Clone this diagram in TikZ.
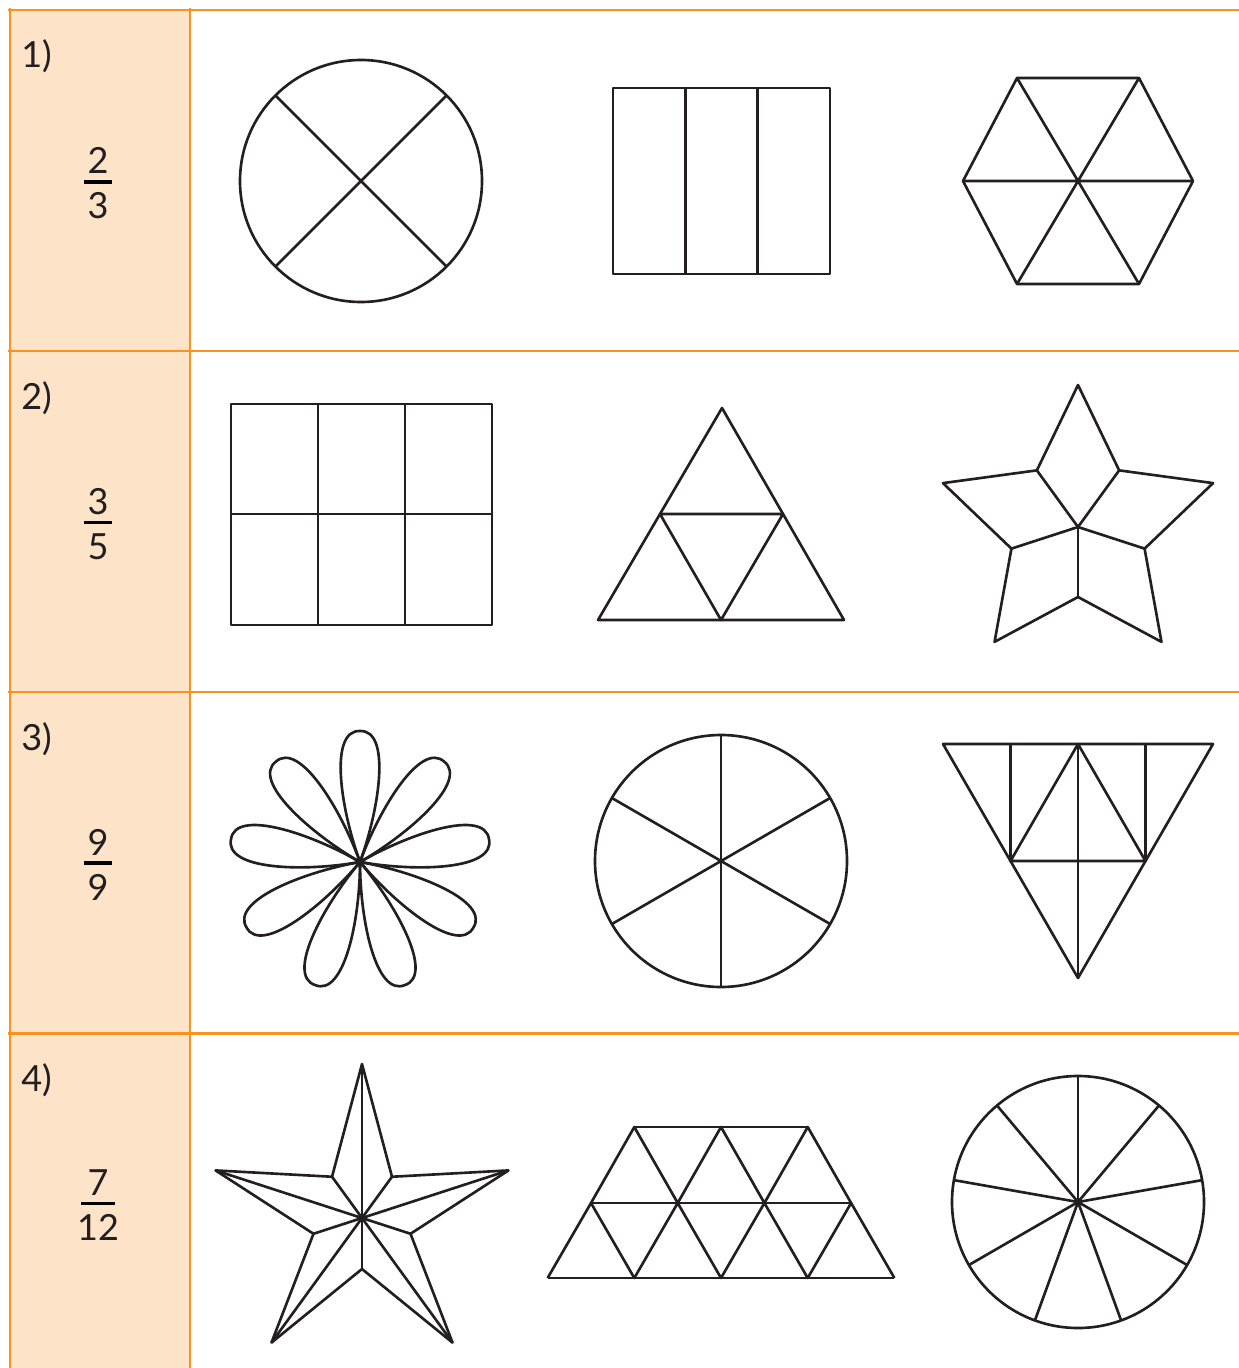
\documentclass[tikz,border=0pt]{standalone}
\usepackage{fontspec}
\setmainfont{Lato}
\definecolor{orangeligne}{HTML}{F7931E}
\definecolor{orangefond}{HTML}{FDE3C8}
\definecolor{encre}{HTML}{231F20}
\tikzset{
  trait/.style={draw=encre, line width=1.5pt, line join=round},
  cadre/.style={draw=orangeligne, line width=1.7pt},
  chiffre/.style={font=\fontsize{20.5}{24}\selectfont, text=encre, inner sep=0pt},
}
\begin{document}
\begin{tikzpicture}[x=0.02cm, y=0.02cm]
  \useasboundingbox (0,0) rectangle (1239,-1368);
  % Colonne de gauche et lignes du tableau
  \fill[orangefond] (10,-10) rectangle (190,-1368);
  \foreach \y in {10,351,692,1033} {
    \draw[cadre] (8,-\y) -- (1239,-\y);
  }
  \draw[cadre] (10,-8) -- (10,-1368);
  \draw[cadre] (190,-8) -- (190,-1368);
  % Numeros et fractions
  \foreach \i/\num/\den/\hw in {1/2/3/14, 2/3/5/14, 3/9/9/14, 4/7/12/17} {
    \node[chiffre, anchor=base west] (lab\i) at (21,{-68-341*(\i-1)}) {\i)};
    \node[chiffre, anchor=base] (num\i) at (98,{-174-340.5*(\i-1)}) {\num};
    \node[chiffre, anchor=base] (den\i) at (98,{-219-340.5*(\i-1)}) {\den};
    \draw[black, line width=1.8pt] ({98-\hw},{-182-340.5*(\i-1)}) -- ({98+\hw},{-182-340.5*(\i-1)});
  }
  % Ligne 1 : cercle en quatre
  \draw[trait] (361,-181) circle (121);
  \foreach \a in {45,135} {
    \draw[trait] ({361+121*cos(\a)},{-181+121*sin(\a)}) -- ({361-121*cos(\a)},{-181-121*sin(\a)});
  }
  % Ligne 1 : rectangle en trois
  \draw[trait] (613,-88) rectangle (830,-274);
  \draw[trait] (685.3,-88) -- (685.3,-274);
  \draw[trait] (757.7,-88) -- (757.7,-274);
  % Ligne 1 : hexagone
  \coordinate (H0) at (1193,-181);
  \coordinate (H1) at (1139,-78);
  \coordinate (H2) at (1017,-78);
  \coordinate (H3) at (963,-181);
  \coordinate (H4) at (1017,-284);
  \coordinate (H5) at (1139,-284);
  \draw[trait] (H0) -- (H1) -- (H2) -- (H3) -- (H4) -- (H5) -- cycle;
  \draw[trait] (H0) -- (H3) (H1) -- (H4) (H2) -- (H5);
  % Ligne 2 : grille 3 x 2
  \draw[trait] (231,-404) rectangle (492,-625);
  \draw[trait] (318,-404) -- (318,-625);
  \draw[trait] (405,-404) -- (405,-625);
  \draw[trait] (231,-514) -- (492,-514);
  % Ligne 2 : triangle en quatre
  \coordinate (A) at (722,-408);
  \coordinate (B) at (598,-620);
  \coordinate (C) at (844,-620);
  \draw[trait] (A) -- (B) -- (C) -- cycle;
  \draw[trait] (660,-514) -- (783,-514) -- (721,-620) -- cycle;
  % Ligne 2 : etoile en losanges
  \coordinate (E) at (1078,-527);
  \foreach \k in {0,...,4} {
    \coordinate (P\k) at ({1078+142*cos(90+72*\k)}, {-527+142*sin(90+72*\k)});
    \coordinate (Q\k) at ({1078+70*cos(126+72*\k)}, {-527+70*sin(126+72*\k)});
  }
  \draw[trait] (P0) -- (Q0) -- (P1) -- (Q1) -- (P2) -- (Q2) -- (P3) -- (Q3) -- (P4) -- (Q4) -- cycle;
  \foreach \k in {0,...,4} {
    \draw[trait] (E) -- (Q\k);
  }
  % Ligne 3 : fleur a neuf petales
  \foreach \a in {90,130,...,410} {
    \begin{scope}[shift={(360,-862)}, rotate=\a]
      \draw[trait] (0,0) .. controls (55,-20) and (132,-31) .. (131,0)
        .. controls (132,31) and (55,20) .. (0,0);
    \end{scope}
  }
  % Ligne 3 : cercle en six
  \draw[trait] (721,-861) circle (126);
  \foreach \a in {30,90,150} {
    \draw[trait] ({721+126*cos(\a)},{-861+126*sin(\a)}) -- ({721-126*cos(\a)},{-861-126*sin(\a)});
  }
  % Ligne 3 : triangle renverse
  \coordinate (T1) at (943,-744);
  \coordinate (T2) at (1213,-744);
  \coordinate (T3) at (1078,-978);
  \coordinate (MH) at (1078,-744);
  \coordinate (MG) at (1010.5,-861);
  \coordinate (MD) at (1145.5,-861);
  \draw[trait] (T1) -- (T2) -- (T3) -- cycle;
  \draw[trait] (MG) -- (MH) -- (MD) -- cycle;
  \draw[trait] (MH) -- (T3);
  \draw[trait] (1010.5,-744) -- (MG);
  \draw[trait] (1145.5,-744) -- (MD);
  % Ligne 4 : etoile en dix
  \coordinate (F) at (362,-1218);
  \foreach \k in {0,...,4} {
    \coordinate (R\k) at ({362+154*cos(90+72*\k)}, {-1218+154*sin(90+72*\k)});
    \coordinate (S\k) at ({362+51*cos(126+72*\k)}, {-1218+51*sin(126+72*\k)});
  }
  \draw[trait] (R0) -- (S0) -- (R1) -- (S1) -- (R2) -- (S2) -- (R3) -- (S3) -- (R4) -- (S4) -- cycle;
  \foreach \k in {0,...,4} {
    \draw[trait] (F) -- (R\k);
    \draw[trait] (F) -- (S\k);
  }
  % Ligne 4 : trapeze en triangles
  \foreach \k in {0,...,4} {
    \coordinate (B\k) at ({547.6+86.7*\k}, -1278);
  }
  \foreach \k in {0,...,3} {
    \coordinate (M\k) at ({591+86.7*\k}, -1203);
  }
  \foreach \k in {0,...,2} {
    \coordinate (U\k) at ({634.3+86.7*\k}, -1127);
  }
  \draw[trait] (B0) -- (B4) (M0) -- (M3) (U0) -- (U2);
  \draw[trait] (B0) -- (M0) -- (B1) -- (M1) -- (B2) -- (M2) -- (B3) -- (M3) -- (B4);
  \draw[trait] (M0) -- (U0) -- (M1) -- (U1) -- (M2) -- (U2) -- (M3);
  % Ligne 4 : cercle en neuf
  \draw[trait] (1078,-1202) circle (126);
  \foreach \k in {0,...,8} {
    \draw[trait] (1078,-1202) -- ({1078+126*cos(90+40*\k)},{-1202+126*sin(90+40*\k)});
  }
\end{tikzpicture}
\end{document}
